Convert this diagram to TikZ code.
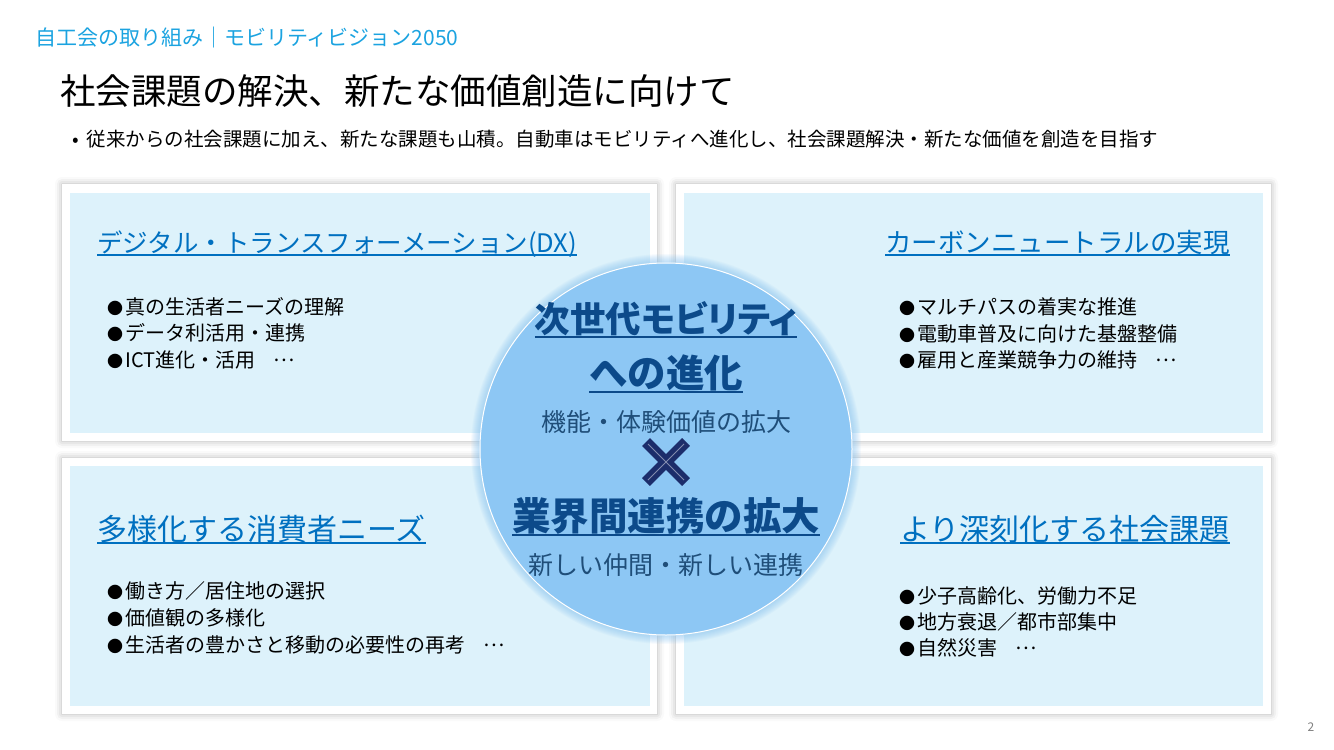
\documentclass[tikz,border=0pt]{standalone}
\usepackage{fontspec}
\setmainfont{Noto Sans CJK JP}
\newfontfamily\paltfont{Noto Sans CJK JP}[RawFeature=+palt]
\usetikzlibrary{shadows.blur}
\definecolor{hdrcyan}{HTML}{1BA3E0}
\definecolor{paneltint}{HTML}{DDF2FB}
\definecolor{ttlblue}{HTML}{0070C0}
\definecolor{hubfill}{HTML}{8DC7F4}
\definecolor{hubglow}{HTML}{7DBEF0}
\definecolor{hubtext}{HTML}{0C4A8A}
\definecolor{hubsub}{HTML}{1F4E79}
\definecolor{crossnavy}{HTML}{1C2D6B}
\definecolor{pagegrey}{HTML}{7F7F7F}
% underline with a heavier rule
\newcommand\ulbar[2][4pt]{\setbox0\hbox{#2}\leavevmode
  \rlap{\rule[-#1]{\wd0}{1.6pt}}\box0}
\newcommand\dotmark{{\fontsize{16}{16}\selectfont ●}\hspace{2pt}}
\newcommand\etcmark{\hspace{0.9em}\raisebox{0.3em}{…}}

\begin{document}
\begin{tikzpicture}[x=1pt,y=-1pt,
frame/.style={fill=white,blur shadow={shadow xshift=0pt,shadow yshift=0pt,
shadow blur radius=7pt,shadow opacity=30}},
panel/.style={fill=paneltint},
txt/.style={inner sep=0pt,anchor=base west},
ttl/.style={txt,text=ttlblue,font=\fontsize{26.5}{30}\selectfont},
item/.style={txt,font=\fontsize{20}{23}\selectfont},
hub/.style={circle,fill=hubfill,draw=white,line width=1pt,minimum size=372pt,inner sep=0pt},
hubbig/.style={inner sep=0pt,anchor=base,text=hubtext,font=\bfseries\fontsize{38.5}{40}\selectfont},
hubsmall/.style={inner sep=0pt,anchor=base,text=hubsub,font=\fontsize{25}{27}\selectfont},
crossline/.style={draw=crossnavy,line width=11pt}
]
\useasboundingbox (0,0) rectangle (1334,750);

% header
\node[txt,text=hdrcyan,font=\fontsize{21}{24}\selectfont] (hdr) at (35,45)
  {自工会の取り組み｜モビリティビジョン2050};
\node[txt,font=\fontsize{35.5}{40}\selectfont] (headline) at (60,104)
  {社会課題の解決、新たな価値創造に向けて};
\node[txt,font=\fontsize{19.5}{23}\selectfont] (lead) at (72,146)
  {•\hspace{8pt}従来からの社会課題に加え、新たな課題も山積。自動車はモビリティへ進化し、社会課題解決・新たな価値を創造を目指す};

% four panels
\fill[frame] (62,184) rectangle (657,441);
\fill[panel] (70,193) rectangle (650,433);
\fill[frame] (676,184) rectangle (1271,441);
\fill[panel] (684,193) rectangle (1263,433);
\fill[frame] (62,458) rectangle (657,714);
\fill[panel] (70,466) rectangle (650,706);
\fill[frame] (676,458) rectangle (1271,714);
\fill[panel] (684,466) rectangle (1263,706);

\node[ttl,font=\fontsize{25.5}{30}\selectfont] (dxttl) at (97,252)
  {\ulbar{デジタル・トランスフォーメーション(DX)}};
\node[item] (dx1) at (107,314) {\dotmark 真の生活者ニーズの理解};
\node[item] (dx2) at (107,340) {\dotmark データ利活用・連携};
\node[item] (dx3) at (107,367) {\dotmark ICT進化・活用\etcmark};

\node[ttl,anchor=base east] (cnttl) at (1230,252) {\ulbar{カーボンニュートラルの実現}};
\node[item] (cn1) at (899,314) {\dotmark マルチパスの着実な推進};
\node[item] (cn2) at (899,341) {\dotmark 電動車普及に向けた基盤整備};
\node[item] (cn3) at (899,367) {\dotmark 雇用と産業競争力の維持\etcmark};

\node[ttl,font=\fontsize{30}{32}\selectfont] (ndttl) at (97,540) {\ulbar{多様化する消費者ニーズ}};
\node[item] (nd1) at (107,598) {\dotmark 働き方／居住地の選択};
\node[item] (nd2) at (107,625) {\dotmark 価値観の多様化};
\node[item] (nd3) at (107,652) {\dotmark 生活者の豊かさと移動の必要性の再考\etcmark};

\node[ttl,anchor=base east,font=\fontsize{30}{32}\selectfont] (sdttl) at (1230,540)
  {\ulbar{より深刻化する社会課題}};
\node[item] (sd1) at (899,603) {\dotmark 少子高齢化、労働力不足};
\node[item] (sd2) at (899,629) {\dotmark 地方衰退／都市部集中};
\node[item] (sd3) at (899,655) {\dotmark 自然災害\etcmark};

% centre circle
\foreach \r in {1,...,9}
  \fill[hubglow,opacity=0.07] (666,449) circle[radius={(186+\r)*1pt}];
\node[hub] (hub) at (666,449) {};
\node[hubbig,font=\paltfont\bfseries\fontsize{35.5}{40}\selectfont] (hubl1) at (666,332)
  {\ulbar[6pt]{次世代モビリティ}};
\node[hubbig] (hubl2) at (666,387) {\ulbar[6pt]{への進化}};
\node[hubsmall] (hubs1) at (666,431) {機能・体験価値の拡大};
\draw[crossline] (646,442) -- (686,482) (646,482) -- (686,442);
\draw[crossnavy!55!white,line width=0.8pt] (648,444) -- (684,480) (648,480) -- (684,444);
\node[hubbig] (hubl3) at (666,530) {\ulbar[6pt]{業界間連携の拡大}};
\node[hubsmall] (hubs2) at (666,574) {新しい仲間・新しい連携};

\node[text=pagegrey,font=\fontsize{12}{14}\selectfont,inner sep=0pt] (pg) at (1311,727) {2};
\end{tikzpicture}
\end{document}
